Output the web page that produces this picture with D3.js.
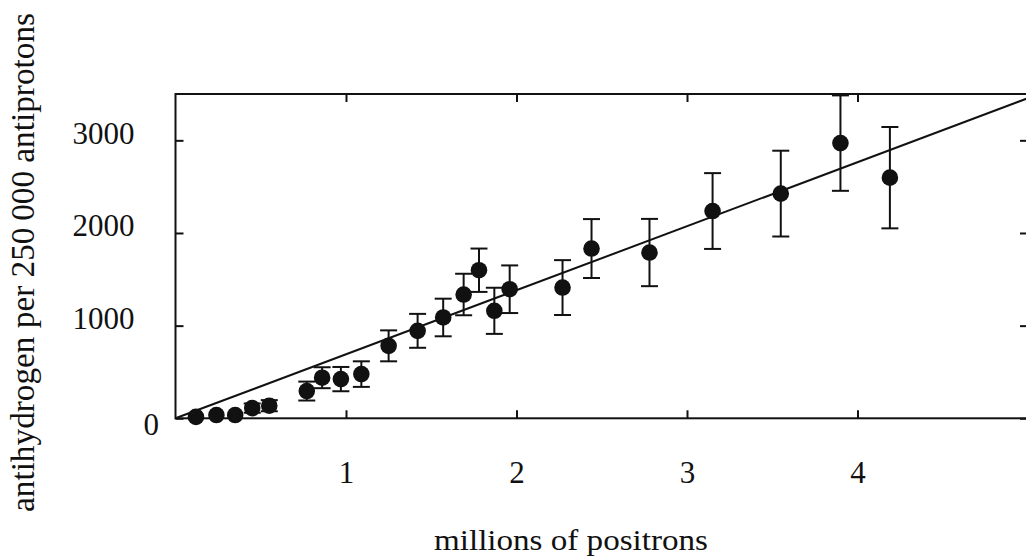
<!DOCTYPE html>
<html>
<head>
<meta charset="utf-8">
<script src="https://cdn.jsdelivr.net/npm/d3@7/dist/d3.min.js"></script>
<style>
  body { margin: 0; background: #fff; }
  text { font-family: "Liberation Serif", "DejaVu Serif", serif; fill: #111; }
</style>
</head>
<body>
<div id="plot"></div>
<script>
// measured points (millions of positrons, antihydrogen per 250 000 antiprotons, error)
const positrons = [0.12, 0.24, 0.35, 0.45, 0.55, 0.77, 0.86, 0.97, 1.09, 1.25, 1.42, 1.57,
                   1.69, 1.78, 1.87, 1.96, 2.27, 2.44, 2.78, 3.15, 3.55, 3.90, 4.19]
const antihydrogen = [15, 35, 35, 110, 136, 294, 438, 423, 477, 782, 944, 1088,
                      1336, 1598, 1160, 1393, 1411, 1832, 1789, 2237, 2425, 2970, 2597]
const errors = [0, 0, 0, 50, 60, 102, 113, 131, 138, 167, 183, 203,
                224, 234, 249, 257, 296, 318, 363, 409, 463, 515, 547]

// straight-line fit
const fitX = [0, 5],
      fitY = [0, 3455]

const xTicks = [1, 2, 3, 4],
      yTicks = [0, 1000, 2000, 3000]

const ink = "#111"
const w = 1026, h = 556
const serif = '"Liberation Serif", "DejaVu Serif", serif'

const svg = d3.select("#plot").append("svg")
  .attr("width", w)
  .attr("height", h)

const xScale = d3.scaleLinear()
        .domain([0, 5])
        .range([175.5, 1028]),
      yScale = d3.scaleLinear()
        .domain([0, 3500])
        .range([418.3, 94])

const x0 = xScale.range()[0], x1 = xScale.range()[1],
      y0 = yScale.range()[0], y1 = yScale.range()[1]

// frame
svg.append("rect")
  .attr("x", x0)
  .attr("y", y1)
  .attr("width", x1 - x0)
  .attr("height", y0 - y1)
  .attr("fill", "none")
  .attr("stroke", ink)
  .attr("stroke-width", 2)

// axes, ticks pointing inwards
const fmt = d3.format("d")
const axBottom = svg.append("g")
  .attr("transform", `translate(0, ${y0})`)
  .call(d3.axisBottom(xScale).tickValues(xTicks).tickFormat(fmt)
    .tickSizeInner(-8).tickSizeOuter(0).tickPadding(43))
const axTop = svg.append("g")
  .attr("transform", `translate(0, ${y1})`)
  .call(d3.axisTop(xScale).tickValues(xTicks).tickSizeInner(-8).tickSizeOuter(0).tickFormat(""))
const axLeft = svg.append("g")
  .attr("transform", `translate(${x0}, 0)`)
  .call(d3.axisLeft(yScale).tickValues(yTicks).tickFormat(fmt)
    .tickSizeInner(-8).tickSizeOuter(0).tickPadding(41))
const axRight = svg.append("g")
  .attr("transform", `translate(${x1}, 0)`)
  .call(d3.axisRight(yScale).tickValues(yTicks).tickSizeInner(-8).tickSizeOuter(0).tickFormat(""))

;[axBottom, axTop, axLeft, axRight].forEach(a => {
  a.attr("font-family", serif)
  a.select(".domain").remove()
  a.selectAll(".tick line").attr("stroke", ink).attr("stroke-width", 2)
  a.selectAll(".tick text")
    .style("font-family", serif)
    .style("font-size", "31px")
    .attr("fill", ink)
})

// the zero label sits lower and closer to the frame
axLeft.selectAll(".tick text")
  .attr("x", d => d === 0 ? -(x0 - 159) : -41)
  .attr("y", d => d === 0 ? 6 : -7)

// axis titles
svg.append("text")
  .attr("x", 571)
  .attr("y", 550)
  .attr("text-anchor", "middle")
  .attr("textLength", 274)
  .attr("lengthAdjust", "spacingAndGlyphs")
  .style("font-size", "29px")
  .text("millions of positrons")

svg.append("text")
  .attr("transform", "translate(33.5, 262.5) rotate(-90)")
  .attr("text-anchor", "middle")
  .attr("textLength", 499)
  .attr("lengthAdjust", "spacingAndGlyphs")
  .style("font-size", "33px")
  .text("antihydrogen per 250\u2009000 antiprotons")

// clip for the fit line
svg.append("clipPath")
  .attr("id", "clip")
  .append("rect")
  .attr("x", x0)
  .attr("y", y1)
  .attr("width", x1 - x0)
  .attr("height", y0 - y1)

svg.append("line")
  .attr("clip-path", "url(#clip)")
  .attr("x1", xScale(fitX[0]))
  .attr("y1", yScale(fitY[0]))
  .attr("x2", xScale(fitX[1]))
  .attr("y2", yScale(fitY[1]))
  .attr("stroke", ink)
  .attr("stroke-width", 2)

const data = positrons.map((p, i) => ({x: p, y: antihydrogen[i], e: errors[i]}))
const cap = 8.5

const bars = svg.append("g")
  .attr("stroke", ink)
  .attr("stroke-width", 2)
  .selectAll("g")
  .data(data.filter(d => d.e > 0))
  .join("g")

bars.append("line")
  .attr("x1", d => xScale(d.x))
  .attr("x2", d => xScale(d.x))
  .attr("y1", d => yScale(d.y - d.e))
  .attr("y2", d => yScale(d.y + d.e))
bars.append("line")
  .attr("x1", d => xScale(d.x) - cap)
  .attr("x2", d => xScale(d.x) + cap)
  .attr("y1", d => yScale(d.y + d.e))
  .attr("y2", d => yScale(d.y + d.e))
bars.append("line")
  .attr("x1", d => xScale(d.x) - cap)
  .attr("x2", d => xScale(d.x) + cap)
  .attr("y1", d => yScale(d.y - d.e))
  .attr("y2", d => yScale(d.y - d.e))

svg.append("g")
  .selectAll("circle")
  .data(data)
  .join("circle")
  .attr("cx", d => xScale(d.x))
  .attr("cy", d => yScale(d.y))
  .attr("r", 8.3)
  .attr("fill", ink)
</script>
</body>
</html>
